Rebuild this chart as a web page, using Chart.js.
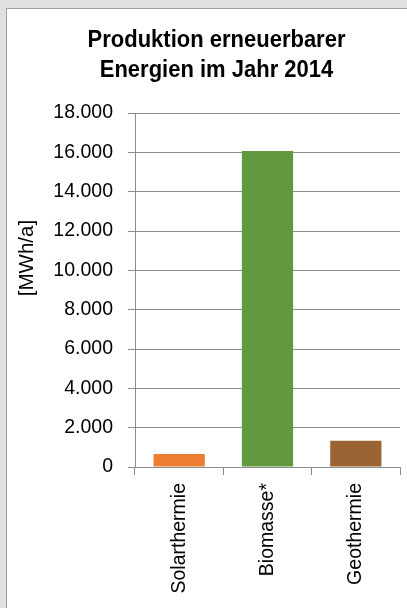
<!DOCTYPE html>
<html>
<head>
<meta charset="utf-8">
<script src="https://cdn.jsdelivr.net/npm/chart.js@4"></script>
<style>
    html, body { margin: 0; padding: 0; background: #e1e1e1; overflow: hidden; }
    #frame {
        position: absolute; left: 6px; top: 8px;
        width: 400px; height: 599px;
        border-left: 1px solid #a0a0a0; border-top: 1px solid #a0a0a0;
        background: #fff;
    }
    canvas { display: block; }
</style>
</head>
<body>
<div id="frame"><canvas id="myChart" width="400" height="599"></canvas></div>
<script>
var titleLines = ['Produktion erneuerbarer', 'Energien im Jahr 2014'];
var yTitle = '[MWh/a]';
var categories = ['Solarthermie', 'Biomasse*', 'Geothermie'];
var values = [660, 16070, 1340];
var yMin = 0;
var yMax = 18000;
var yStep = 2000;

var barColors = ['#ED7D31', '#62993E', '#9A6434'];
var gridColor = '#8c8c8c';
var fontFamily = '"Liberation Sans", Arial, sans-serif';

function formatDE(v) {
    return String(v).replace(/\B(?=(\d{3})+(?!\d))/g, '.');
}

// draws the chart title and the rotated y title
var titlesPlugin = {
    id: 'titles',
    afterDraw: function (chart) {
        var ctx = chart.ctx;
        ctx.save();
        ctx.fillStyle = '#000';
        ctx.font = 'bold 22px ' + fontFamily;
        ctx.textAlign = 'center';
        ctx.textBaseline = 'alphabetic';
        // glyphs in the original are a bit taller than Arial
        ctx.save();
        ctx.scale(1, 1.08);
        ctx.fillText(titleLines[0], 209.5, 37.7 / 1.08);
        ctx.fillText(titleLines[1], 209.5, 67.7 / 1.08);
        ctx.restore();

        ctx.font = '20.5px ' + fontFamily;
        ctx.translate(20, 249);
        ctx.rotate(-Math.PI / 2);
        ctx.textBaseline = 'middle';
        ctx.fillText(yTitle, 0, 0);
        ctx.restore();
    }
};

var ctx = document.getElementById('myChart').getContext('2d');
var myChart = new Chart(ctx, {
    type: 'bar',
    data: {
        labels: categories,
        datasets: [{
            data: values,
            backgroundColor: barColors,
            barPercentage: 0.58,
            categoryPercentage: 1
        }]
    },
    options: {
        responsive: false,
        animation: false,
        layout: { padding: { top: 104, right: 7, left: 0, bottom: 0 } },
        plugins: {
            legend: { display: false },
            tooltip: { enabled: false }
        },
        scales: {
            x: {
                afterFit: function (scale) { scale.height = 141; },
                grid: {
                    drawOnChartArea: false,
                    color: gridColor,
                    tickLength: 8
                },
                border: { color: gridColor },
                ticks: {
                    minRotation: 90,
                    maxRotation: 90,
                    padding: 8,
                    color: '#000',
                    font: { family: fontFamily, size: 19.5 }
                }
            },
            y: {
                min: yMin,
                max: yMax,
                afterFit: function (scale) { scale.width = 128; },
                grid: {
                    color: gridColor,
                    tickLength: 7
                },
                border: { color: gridColor },
                ticks: {
                    stepSize: yStep,
                    padding: 15,
                    color: '#000',
                    font: { family: fontFamily, size: 19.5 },
                    callback: function (v) { return formatDE(v); }
                }
            }
        }
    },
    plugins: [titlesPlugin]
});
</script>
</body>
</html>
